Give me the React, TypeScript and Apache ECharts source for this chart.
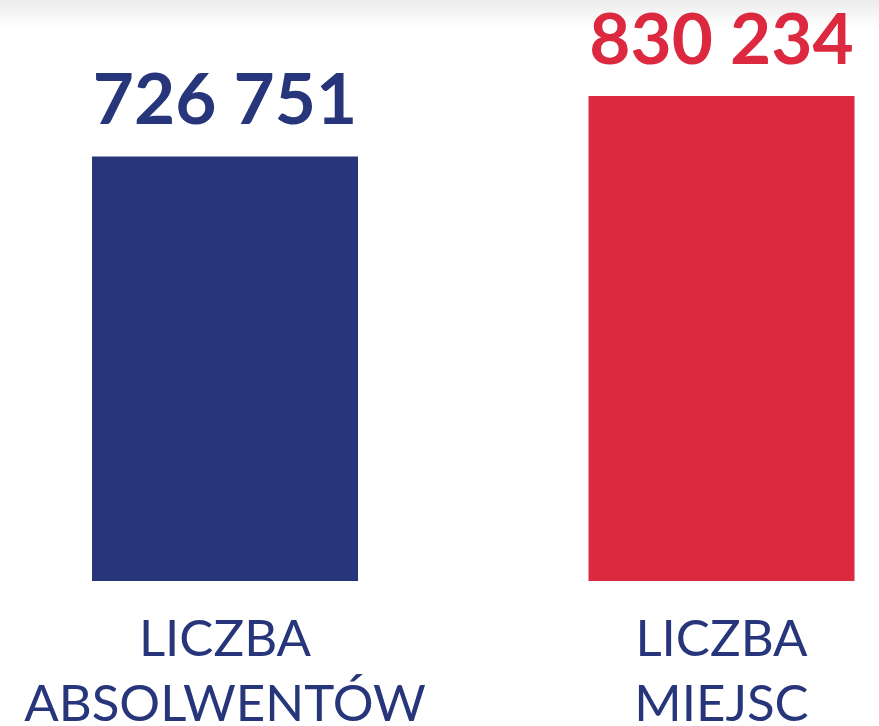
import React, { useEffect, useRef } from "react";
import * as echarts from "echarts";

const categories = ["LICZBA\nABSOLWENTÓW", "LICZBA\nMIEJSC"];
const values = [726751, 830234];
const colors = ["#27367a", "#dc2940"];

function fmt(v: number): string {
  return String(v).replace(/\B(?=(\d{3})+(?!\d))/g, " ");
}

export default function App() {
  const ref = useRef<HTMLDivElement>(null);
  useEffect(() => {
    document.body.style.margin = "0";
    const chart = echarts.init(ref.current!, null, { renderer: "svg" });
    chart.setOption({
      animation: false,
      backgroundColor: "#ffffff",
      graphic: [
        {
          type: "rect",
          left: 0,
          top: 0,
          z: -10,
          shape: { width: 879, height: 28 },
          style: {
            fill: new echarts.graphic.LinearGradient(0, 0, 0, 1, [
              { offset: 0, color: "#ececec" },
              { offset: 1, color: "#ffffff" },
            ]),
          },
        },
      ],
      grid: {
        left: 225,
        right: 157.5,
        top: 96,
        bottom: 145,
        containLabel: false,
        outerBoundsMode: "none",
      },
      xAxis: {
        type: "category",
        data: categories,
        boundaryGap: false,
        axisLine: { show: false },
        axisTick: { show: false },
        splitLine: { show: false },
        axisLabel: {
          interval: 0,
          margin: 23,
          fontFamily: "Lato",
          fontWeight: 400,
          fontSize: 51,
          lineHeight: 65,
          color: "#27367a",
        },
      },
      yAxis: {
        type: "value",
        min: 0,
        max: 830234,
        show: false,
        splitLine: { show: false },
      },
      series: [
        {
          type: "bar",
          barWidth: 266,
          data: values.map((v, i) => ({
            value: v,
            itemStyle: { color: colors[i] },
            label: { color: colors[i] },
          })),
          label: {
            show: true,
            position: "top",
            distance: 24,
            fontFamily: "Lato",
            fontWeight: 700,
            fontSize: 71,
            formatter: (p: any) => fmt(p.value),
          },
        },
      ],
    });
    return () => chart.dispose();
  }, []);
  return <div ref={ref} style={{ width: 879, height: 726 }} />;
}
